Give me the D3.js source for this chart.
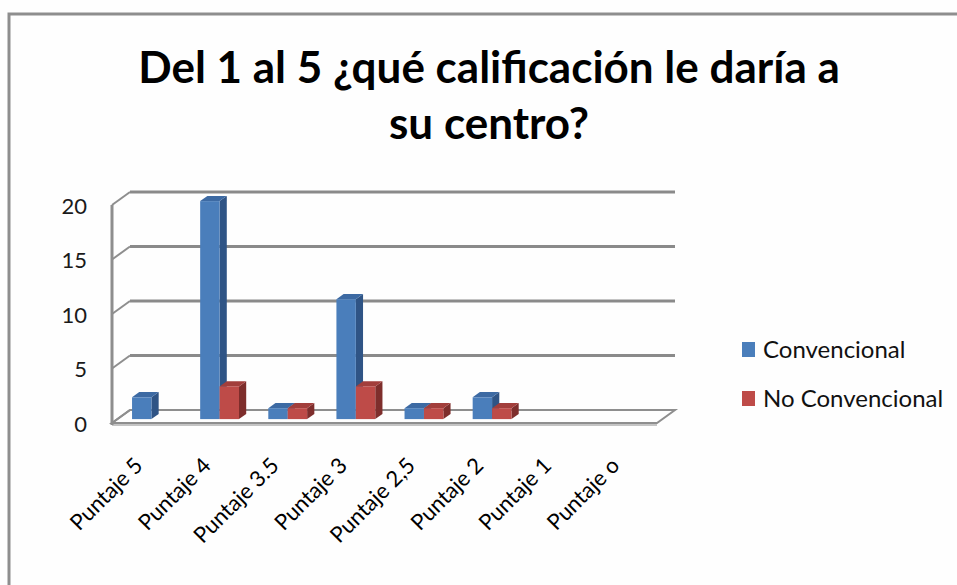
<!DOCTYPE html>
<html>
<head>
<meta charset="utf-8">
<script src="https://cdn.jsdelivr.net/npm/d3@7"></script>
<style>
  body { margin: 0; background: #fff; }
  text { font-family: Lato, "Open Sans", sans-serif; fill: #111; }
</style>
</head>
<body>
<div id="chart"></div>
<script>
// chart data
var categories = ["Puntaje 5", "Puntaje 4", "Puntaje 3.5", "Puntaje 3", "Puntaje 2,5", "Puntaje 2", "Puntaje 1", "Puntaje o"];
var seriesNames = ["Convencional", "No Convencional"];
var convencional = [2, 20, 1, 11, 1, 2, 0, 0];
var noConvencional = [0, 3, 1, 3, 1, 1, 0, 0];
var yTicks = [0, 5, 10, 15, 20];
var titleLines = ["Del 1 al 5 ¿qué calificación le daría a", "su centro?"];

var width = 957, height = 585;

// 3d look: how far the back wall sits from the front
var depth = {dx: 18, dy: -13};

var svg = d3.select("#chart")
  .append("svg")
    .attr("width", width)
    .attr("height", height);

svg.append("rect")
  .attr("width", width).attr("height", height)
  .style("fill", "#fefefe");

// outer chart border (runs off the right and bottom edge)
svg.append("rect")
  .attr("x", 9).attr("y", 14)
  .attr("width", 1000).attr("height", 700)
  .style("fill", "none")
  .style("stroke", "#8e8e8e")
  .style("stroke-width", 3);

// title
svg.append("g").selectAll("text")
  .data(titleLines)
  .enter()
  .append("text")
    .attr("x", 489)
    .attr("y", function(d, i) { return 83 + i * 56; })
    .attr("text-anchor", "middle")
    .style("font-size", "44px")
    .style("font-weight", "bold")
    .style("fill", "#000")
    .text(function(d) { return d; });

// scales (front plane)
var x = d3.scaleBand()
  .domain(categories)
  .range([112, 657])
  .paddingInner(0.43)
  .paddingOuter(0.215);

var xSeries = d3.scaleBand()
  .domain(seriesNames)
  .range([0, x.bandwidth()]);

var y = d3.scaleLinear()
  .domain([0, 20])
  .range([423, 205]);

var x0 = x.range()[0], x1 = x.range()[1];

// floor
var floor = svg.append("g");
floor.append("polygon")
  .attr("points", [
    [x0, y(0)], [x1, y(0)], [x1 + depth.dx, y(0) + depth.dy], [x0 + depth.dx, y(0) + depth.dy]
  ].map(function(p) { return p.join(","); }).join(" "))
  .style("fill", "#fefefe")
  .style("stroke", "#8e8e8e")
  .style("stroke-width", 2);
floor.append("line")
  .attr("x1", x0).attr("x2", x1)
  .attr("y1", y(0) + 2).attr("y2", y(0) + 2)
  .style("stroke", "#c4c4c4")
  .style("stroke-width", 2);

// gridlines on the back wall + side wall diagonals
var grid = svg.append("g");
grid.selectAll(".back")
  .data(yTicks.slice(1))
  .enter()
  .append("line")
    .attr("x1", x0 + depth.dx).attr("x2", x1 + depth.dx)
    .attr("y1", function(d) { return y(d) + depth.dy; })
    .attr("y2", function(d) { return y(d) + depth.dy; })
    .style("stroke", "#8a8a8a")
    .style("stroke-width", 3);
grid.selectAll(".side")
  .data(yTicks)
  .enter()
  .append("line")
    .attr("x1", x0).attr("x2", x0 + depth.dx)
    .attr("y1", function(d) { return y(d); })
    .attr("y2", function(d) { return y(d) + depth.dy; })
    .style("stroke", "#8e8e8e")
    .style("stroke-width", 2);
grid.append("line")
  .attr("x1", x0).attr("x2", x0)
  .attr("y1", y(20)).attr("y2", y(0) + 2)
  .style("stroke", "#8e8e8e")
  .style("stroke-width", 3);

// y axis labels
svg.append("g")
  .attr("transform", "translate(87,1)")
  .call(d3.axisLeft(y).tickValues(yTicks).tickSize(0).tickPadding(0))
  .call(function(g) { g.select(".domain").remove(); })
  .selectAll("text")
    .style("font-size", "22px")
    .style("font-family", "Lato, 'Open Sans', sans-serif")
    .style("fill", "#1a1a1a");

// bars
var colors = {
  "Convencional": {front: "#4a7ebb", side: "#2f5485", top: "#3d6aa3"},
  "No Convencional": {front: "#be4b48", side: "#7e2e2c", top: "#a23e3b"}
};
var barDepth = {start: 0.3, end: 0.7};

var rows = [];
categories.forEach(function(c, i) {
  rows.push({cat: c, series: "Convencional", value: convencional[i]});
  rows.push({cat: c, series: "No Convencional", value: noConvencional[i]});
});
rows = rows.filter(function(d) { return d.value > 0; });

var bars = svg.append("g").selectAll("g")
  .data(rows)
  .enter()
  .append("g");

function pts(arr) { return arr.map(function(p) { return p.join(","); }).join(" "); }

bars.each(function(d) {
  var g = d3.select(this);
  var sx = depth.dx * barDepth.start, sy = depth.dy * barDepth.start;
  var ddx = depth.dx * (barDepth.end - barDepth.start), ddy = depth.dy * (barDepth.end - barDepth.start);
  var left = x(d.cat) + xSeries(d.series) + sx;
  var right = left + xSeries.bandwidth();
  var top = y(d.value) + sy;
  var bottom = y(0) + sy;
  var col = colors[d.series];
  g.append("polygon")
    .attr("points", pts([[right, top], [right + ddx, top + ddy], [right + ddx, bottom + ddy], [right, bottom]]))
    .style("fill", col.side);
  g.append("polygon")
    .attr("points", pts([[left, top], [right, top], [right + ddx, top + ddy], [left + ddx, top + ddy]]))
    .style("fill", col.top);
  g.append("rect")
    .attr("x", left).attr("y", top)
    .attr("width", right - left).attr("height", bottom - top)
    .style("fill", col.front);
});

// x axis labels
svg.append("g").selectAll("text")
  .data(categories)
  .enter()
  .append("text")
    .attr("text-anchor", "end")
    .attr("transform", function(d) {
      var cx = x(d) + x.bandwidth() / 2 - 2;
      return "translate(" + cx + ",467) rotate(-45)";
    })
    .style("font-size", "22px")
    .style("fill", "#000")
    .text(function(d) { return d; });

// legend
var legend = svg.append("g").selectAll("g")
  .data(seriesNames)
  .enter()
  .append("g")
    .attr("transform", function(d, i) { return "translate(742," + (342 + i * 49) + ")"; });
legend.append("rect")
  .attr("width", 13).attr("height", 15)
  .style("fill", function(d) { return colors[d].front; });
legend.append("text")
  .attr("x", 21).attr("y", 16)
  .style("font-size", "24px")
  .text(function(d) { return d; });
</script>
</body>
</html>
